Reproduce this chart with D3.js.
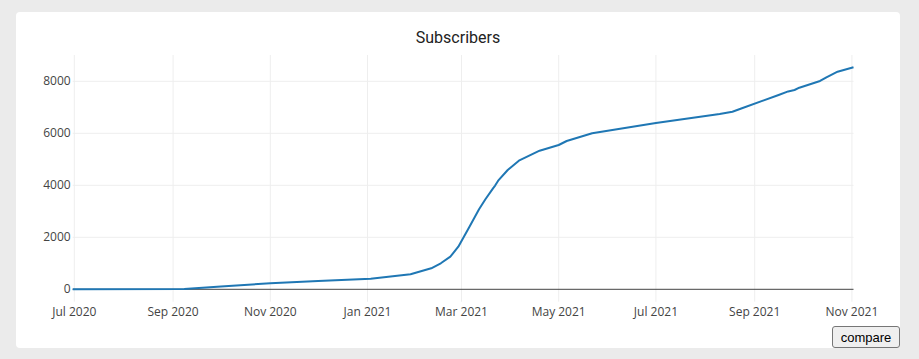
<!DOCTYPE html>
<html>
<head>
<meta charset="utf-8">
<script src="https://cdn.jsdelivr.net/npm/d3@7"></script>
<style>
  html, body { margin: 0; padding: 0; background: #ebebeb; }
  body { width: 919px; height: 359px; position: relative; overflow: hidden; }
  #card { position: absolute; left: 16px; top: 12px; width: 884px; height: 336px; background: #fff; border-radius: 4px; }
  svg { position: absolute; left: 0; top: 0; }
  #cmp { position: absolute; left: 832px; top: 326px; width: 68px; height: 22px; padding: 0;
         font: 13px "Liberation Sans", Arial, sans-serif; color: #000; background: #efefef;
         border: 1px solid #767676; border-radius: 3px; }
</style>
</head>
<body>
<div id="card"></div>
<svg id="chart" width="919" height="359"></svg>
<button id="cmp">compare</button>
<script>
const title = "Subscribers";
const dates = ["2020-06-30","2020-07-01","2020-09-08","2020-10-01","2020-11-01","2020-12-01","2021-01-03","2021-01-28","2021-02-10","2021-02-16","2021-02-22","2021-02-27","2021-03-06","2021-03-12","2021-03-16","2021-03-21","2021-03-22","2021-03-24","2021-03-30","2021-04-06","2021-04-19","2021-05-01","2021-05-06","2021-05-22","2021-07-01","2021-08-10","2021-08-18","2021-08-24","2021-09-16","2021-09-22","2021-09-26","2021-09-29","2021-10-12","2021-10-16","2021-10-23","2021-11-02"];
const subscribers = [0,0,8,110,230,320,408,577,808,1000,1254,1638,2408,3077,3462,3900,3980,4177,4588,4946,5331,5550,5704,6000,6396,6742,6831,6962,7473,7610,7665,7754,8012,8154,8369,8538];
const xTickDates = ["2020-07-01","2020-09-01","2020-11-01","2021-01-01","2021-03-01","2021-05-01","2021-07-01","2021-09-01","2021-11-01"];
const xTickLabels = ["Jul 2020","Sep 2020","Nov 2020","Jan 2021","Mar 2021","May 2021","Jul 2021","Sep 2021","Nov 2021"];
const yTicks = [0,2000,4000,6000,8000];

const parse = d3.utcParse("%Y-%m-%d");
const data = dates.map((d,i) => ({date: parse(d), v: subscribers[i]}));

const L = 72.7, R = 853.5, T = 55, B = 301.7;
const x = d3.scaleUtc().domain(d3.extent(data, d => d.date)).range([L, R]);
const y = d3.scaleLinear().domain([-477, 9011]).range([B, T]);

const svg = d3.select("#chart");
const font = "'Open Sans', sans-serif";

svg.append("g").selectAll("line").data(xTickDates).join("line")
  .attr("x1", d => x(parse(d))).attr("x2", d => x(parse(d)))
  .attr("y1", T).attr("y2", B)
  .attr("stroke", "#eeeeee").attr("stroke-width", 1);
svg.append("g").selectAll("line").data(yTicks.filter(v => v !== 0)).join("line")
  .attr("x1", L).attr("x2", R)
  .attr("y1", d => y(d)).attr("y2", d => y(d))
  .attr("stroke", "#eeeeee").attr("stroke-width", 1);
svg.append("line").attr("x1", L).attr("x2", R).attr("y1", y(0)).attr("y2", y(0))
  .attr("stroke", "#444").attr("stroke-width", 1);

svg.append("g").selectAll("text").data(yTicks).join("text")
  .attr("x", L - 2).attr("y", d => y(d)).attr("dy", "0.35em")
  .attr("text-anchor", "end").attr("font-family", font).attr("font-size", 12)
  .attr("fill", "#444").text(d => d);
svg.append("g").selectAll("text").data(xTickDates).join("text")
  .attr("x", d => x(parse(d))).attr("y", 315.5)
  .attr("text-anchor", "middle").attr("font-family", font).attr("font-size", 12)
  .attr("fill", "#444").text((d,i) => xTickLabels[i]);

const line = d3.line().x(d => x(d.date)).y(d => y(d.v));
svg.append("path").datum(data).attr("d", line)
  .attr("fill", "none").attr("stroke", "#1f77b4").attr("stroke-width", 2)
  .attr("stroke-linejoin", "round");

svg.append("text").attr("x", 458).attr("y", 43.3).attr("text-anchor", "middle")
  .attr("font-family", "Roboto, sans-serif").attr("font-size", 16).attr("fill", "#222")
  .text(title);
</script>
</body>
</html>
